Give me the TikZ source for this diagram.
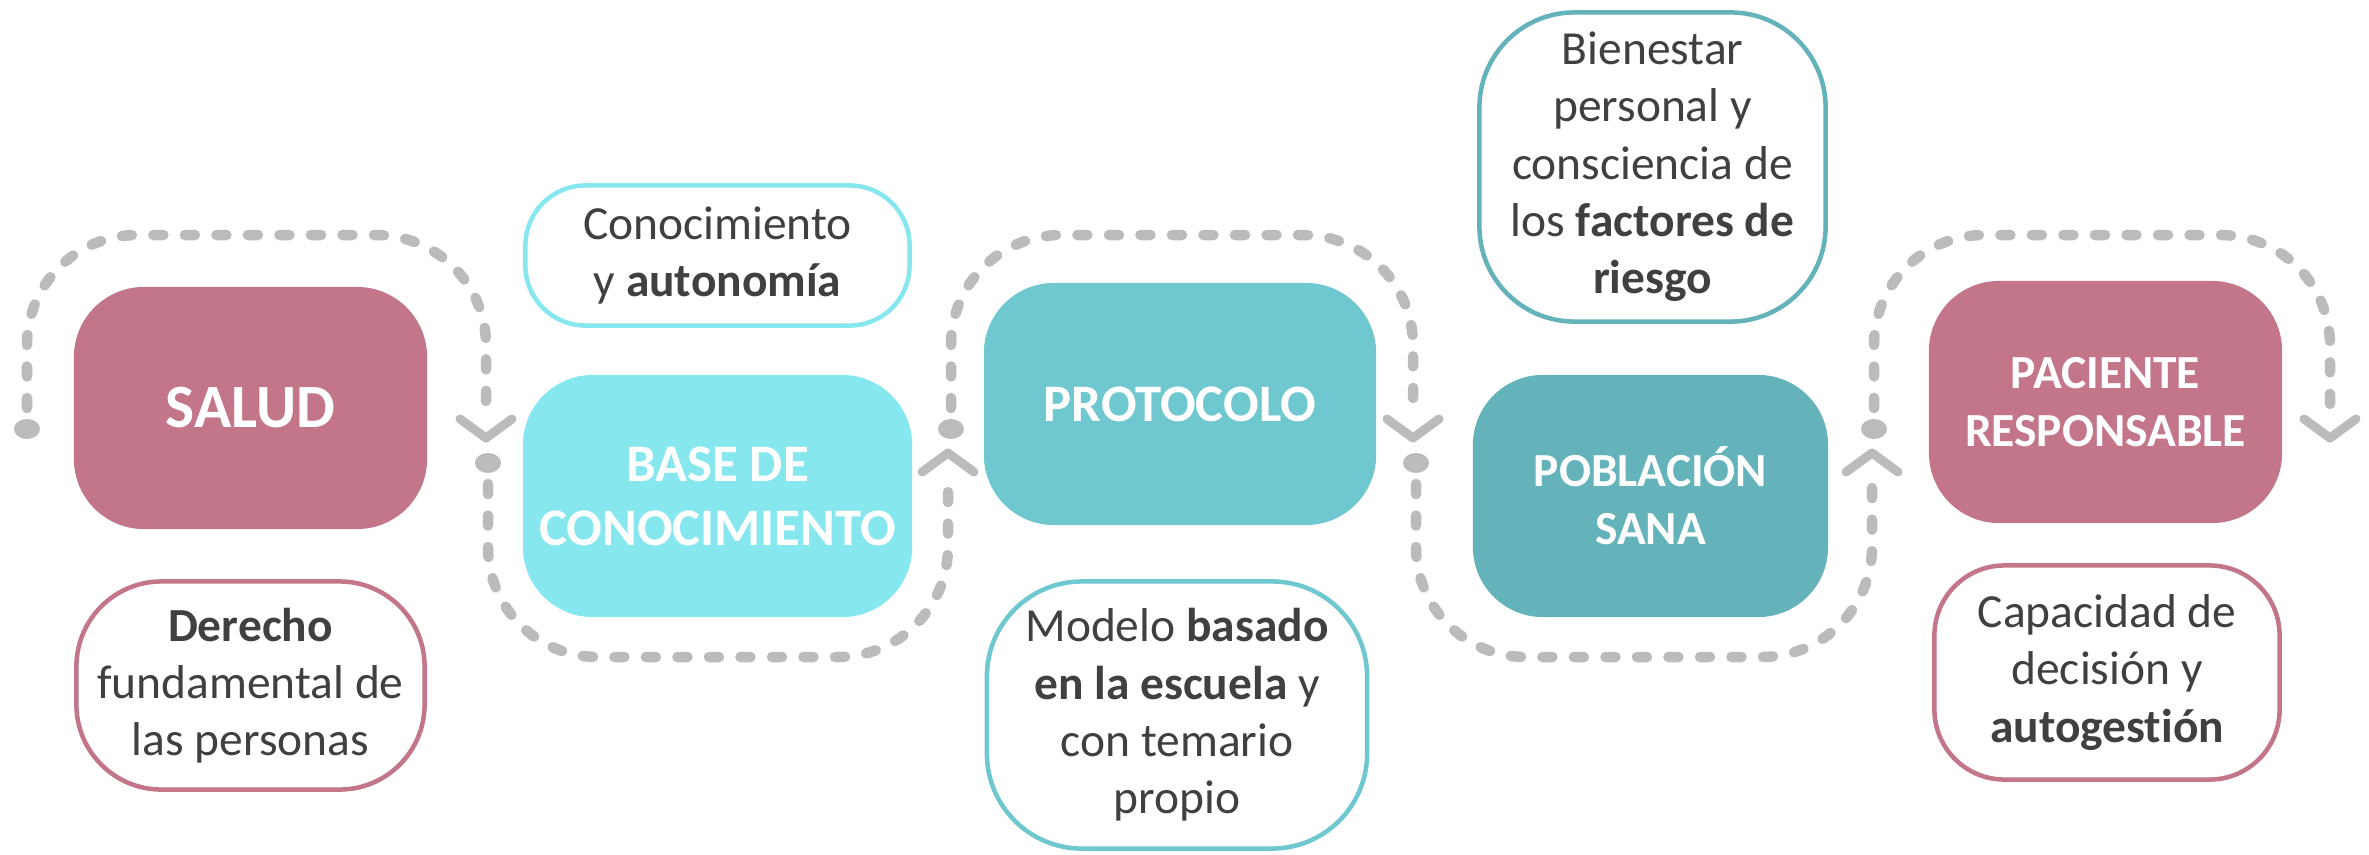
\documentclass[tikz,border=0pt]{standalone}
\usepackage{fontspec}
\setmainfont{Carlito}[Ligatures=NoCommon]
\usetikzlibrary{calc}

\definecolor{rosa}{HTML}{C37589}
\definecolor{celeste}{HTML}{86E7EF}
\definecolor{turquesa}{HTML}{6FC7CF}
\definecolor{verdeazul}{HTML}{64B2BA}
\definecolor{gris}{HTML}{BBBBBB}
\definecolor{texto}{HTML}{404040}

\begin{document}
\begin{tikzpicture}[x=0.01cm, y=-0.01cm,
  titulo/.style={rounded corners=0.7cm, minimum width=3.53cm, minimum height=2.42cm,
    text=white, align=center, inner sep=0pt},
  nota/.style={draw, line width=0.045cm, fill=white, text=texto, align=center,
    inner sep=0pt, font=\fontsize{13.5}{16.3}\selectfont},
  camino/.style={gris, line width=0.105cm, line cap=round,
    dash pattern=on 0.1cm off 0.215cm, rounded corners=1.1cm,
    shorten <=0.21cm, shorten >=0.3cm},
  punta/.style={gris, line width=0.09cm, line cap=round, line join=round},
  punto/.style={gris, fill=gris}]
% Page size in pixels of the reference
\useasboundingbox (0,0) rectangle (2369,854);

% Main steps
\node[titulo, fill=rosa, font=\bfseries\fontsize{17.5}{21}\selectfont] (salud) at (250.5,408) {SALUD};
\node[titulo, fill=celeste, minimum width=3.89cm, font=\bfseries\fontsize{15}{18.2}\selectfont] (base) at (717.5,496) {BASE DE\\CONOCIMIENTO};
\node[titulo, fill=turquesa, minimum width=3.92cm, font=\bfseries\fontsize{15}{18.2}\selectfont] (protocolo) at (1180,404) {PROTOCOLO};
\node[titulo, fill=verdeazul, minimum width=3.55cm, font=\bfseries\fontsize{13.5}{16.5}\selectfont] (poblacion) at (1650.5,496) {POBLACIÓN\\SANA};
\node[titulo, fill=rosa, font=\bfseries\fontsize{13.5}{16.5}\selectfont] (paciente) at (2105.5,402) {PACIENTE\\RESPONSABLE};

% Notes above and below
\node[nota, draw=rosa, rounded corners=0.85cm, minimum width=3.48cm, minimum height=2.08cm] (derecho) at (250.5,685.5) {\textbf{Derecho}\\fundamental de\\las personas};
\node[nota, draw=celeste, rounded corners=0.6cm, minimum width=3.84cm, minimum height=1.4cm] (conocimiento) at (717.5,255.5) {Conocimiento\\y \textbf{autonomía}};
\node[nota, draw=turquesa, rounded corners=0.95cm, minimum width=3.8cm, minimum height=2.67cm] (modelo) at (1177,715) {Modelo \textbf{basado}\\\textbf{en la escuela} y\\con temario\\propio};
\node[nota, draw=verdeazul, rounded corners=0.95cm, minimum width=3.46cm, minimum height=3.09cm] (bienestar) at (1652.5,167) {Bienestar\\personal y\\consciencia de\\los \textbf{factores de}\\\textbf{riesgo}};
\node[nota, draw=rosa, rounded corners=0.7cm, minimum width=3.45cm, minimum height=2.14cm] (capacidad) at (2107,672.5) {Capacidad de\\decisión y\\\textbf{autogestión}};

% Ends of the dotted path
\coordinate (arriba) at (0,235);
\coordinate (abajo) at (0,657);
\coordinate (ini1) at (27,429);   \coordinate (fin1) at (486,438);
\coordinate (ini2) at (488,463);  \coordinate (fin2) at (948,453);
\coordinate (ini3) at (951,429);  \coordinate (fin3) at (1413,438);
\coordinate (ini4) at (1416,463); \coordinate (fin4) at (1872,453);
\coordinate (ini5) at (1874,429); \coordinate (fin5) at (2330,438);

% Dotted path, over and under the steps
\draw[camino] (ini1) |- (arriba -| fin1) -- (fin1);
\draw[camino] (ini2) |- (abajo -| fin2) -- (fin2);
\draw[camino] (ini3) |- (arriba -| fin3) -- (fin3);
\draw[camino] (ini4) |- (abajo -| fin4) -- (fin4);
\draw[camino] (ini5) |- (arriba -| fin5) -- (fin5);

% Dots
\fill[punto] (ini1) ellipse [x radius=13, y radius=10];
\fill[punto] (ini2) ellipse [x radius=13, y radius=10];
\fill[punto] (ini3) ellipse [x radius=13, y radius=10];
\fill[punto] (ini4) ellipse [x radius=13, y radius=10];
\fill[punto] (ini5) ellipse [x radius=13, y radius=10];

% Chevrons
\draw[punta] (fin1) ++(-26,-19) -- (fin1) -- ++(26,-19);
\draw[punta] (fin2) ++(-26,19) -- (fin2) -- ++(26,19);
\draw[punta] (fin3) ++(-26,-19) -- (fin3) -- ++(26,-19);
\draw[punta] (fin4) ++(-26,19) -- (fin4) -- ++(26,19);
\draw[punta] (fin5) ++(-26,-19) -- (fin5) -- ++(26,-19);
\end{tikzpicture}
\end{document}
